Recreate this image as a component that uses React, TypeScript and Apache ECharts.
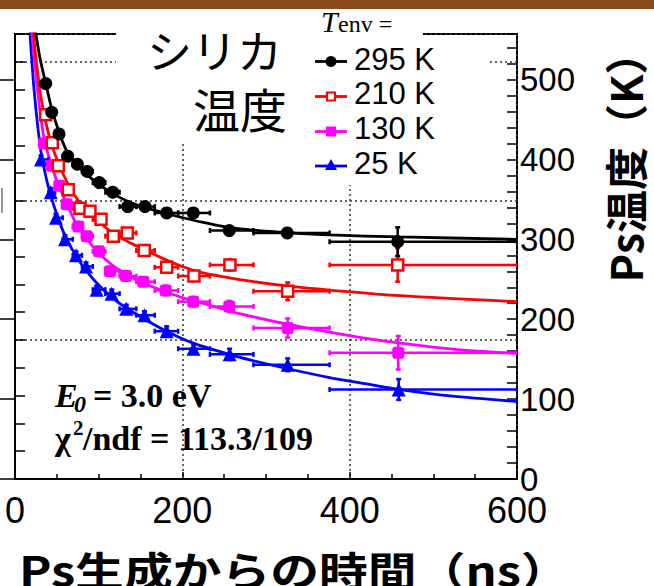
import React, { useEffect, useRef } from "react";
import * as echarts from "echarts";

// ---- data ----
const binEdges = [30, 40, 48, 57, 69, 80, 93, 108, 125, 145, 167, 195, 233, 285, 376, 600];

const time295 = [36.7, 43.9, 52.6, 63, 74.5, 86.4, 100.8, 116.8, 134.7, 155.4, 181.3, 213.1, 256.1, 325.4, 457.4];
const temp295 = [495, 459, 432, 404, 394, 385, 371, 359, 341, 341, 333, 333, 311, 308, 297];
const err295 = [4, 4, 4, 4, 4, 4, 4, 4, 4, 4, 5, 5, 5, 6, 18];

const time210 = [36.7, 44.6, 51.8, 63.7, 77.7, 89.6, 102.8, 117.5, 134.2, 154.5, 181.3, 213.9, 256.9, 325.9, 457.4];
const temp210 = [456, 421, 392, 362, 339, 335, 325, 304, 308, 286, 265, 254, 268, 235, 268];
const err210 = [5, 5, 5, 5, 5, 5, 5, 5, 5, 5, 6, 6, 7, 11, 21];

const time130 = [34.7, 43.9, 52.9, 61.8, 75.7, 85.7, 100.4, 113.5, 132.7, 153.3, 180.1, 213.1, 256.1, 325.9, 458.1];
const temp130 = [420, 392, 367, 344, 316, 304, 285, 260, 254, 247, 236, 222, 216, 189, 158];
const err130 = [5, 5, 5, 5, 5, 5, 5, 5, 5, 5, 6, 6, 7, 12, 21];

const time25 = [31.1, 42.7, 49, 59.8, 72.9, 84.9, 97.6, 115.6, 133, 154.8, 181.3, 213.3, 256.5, 325.9, 458.6];
const temp25 = [400, 359, 327, 300, 280, 266, 237, 232, 213, 205, 185, 163, 156, 143, 112];
const err25 = [5, 5, 5, 5, 5, 5, 5, 5, 5, 5, 6, 6, 7, 8, 13];

// fit curves [time ns, temperature K]
const fit295 = [[22, 578], [25, 557], [30, 526], [37, 494], [44, 463], [53, 433], [63, 408], [75, 392], [87, 380], [100, 369], [115, 358.5], [134, 348], [155, 340], [182, 332], [201, 327], [221, 322], [250, 316], [285, 311.5], [330, 308], [376, 305.5], [460, 303], [600, 300]];
const fit210 = [[19, 600], [22, 558], [26, 518], [32, 472], [42, 425], [54, 390], [70, 357], [85, 337], [100, 322], [117, 308], [135, 297], [153, 288], [181, 274], [200, 266], [221, 259], [250, 253], [285, 247], [330, 241], [376, 236.5], [460, 229.5], [600, 222]];
const fit130 = [[17, 600], [20.3, 558], [25, 505], [30, 460], [35, 425], [45, 388], [53, 366], [62, 344], [74, 318], [86, 300], [100, 283], [117, 267], [135, 255], [150, 247], [181, 234], [200, 227], [221, 221], [261, 209], [285, 203], [325, 194], [376, 184], [420, 176], [460, 170], [520, 163], [600, 157]];
const fit25 = [[15.5, 600], [17.9, 558], [20, 525], [23, 485], [27, 443], [31, 410], [37, 378], [43, 354], [50, 331], [60, 304], [73, 279], [85, 261], [98, 245], [115, 228], [133, 214], [155, 200], [181, 185], [213, 170], [256, 156], [285, 148], [326, 138], [376, 127], [420, 119], [460, 112], [520, 104], [600, 97]];

const legendLabels = ["295 K", "210 K", "130 K", "25 K"];
const xMax = 600;
const meVMax = 48; // left axis (meV)
const kMax = meVMax / 0.0861733; // right axis (K)

const BLACK = "#000000";
const RED = "#ff0000";
const PINK = "#ff00ff";
const BLUE = "#0000ff";

function errRows(times: number[], temps: number[], errs: number[]) {
  return times.map((t, i) => [t, temps[i], binEdges[i], binEdges[i + 1], errs[i]]);
}

function errRenderer(color: string) {
  return (params: any, api: any) => {
    const x = api.value(0), y = api.value(1), xl = api.value(2), xh = api.value(3), ye = api.value(4);
    const p = api.coord([x, y]);
    const pl = api.coord([xl, y]);
    const ph = api.coord([xh, y]);
    const pt = api.coord([x, y + ye]);
    const pb = api.coord([x, y - ye]);
    const style = { stroke: color, lineWidth: 2.5, fill: null };
    const c = 2.5;
    return {
      type: "group",
      children: [
        { type: "line", shape: { x1: pl[0], y1: p[1], x2: ph[0], y2: p[1] }, style },
        { type: "line", shape: { x1: pl[0], y1: p[1] - c, x2: pl[0], y2: p[1] + c }, style },
        { type: "line", shape: { x1: ph[0], y1: p[1] - c, x2: ph[0], y2: p[1] + c }, style },
        { type: "line", shape: { x1: p[0], y1: pt[1], x2: p[0], y2: pb[1] }, style },
        { type: "line", shape: { x1: p[0] - c, y1: pt[1], x2: p[0] + c, y2: pt[1] }, style },
        { type: "line", shape: { x1: p[0] - c, y1: pb[1], x2: p[0] + c, y2: pb[1] }, style },
      ],
    };
  };
}

function seriesFor(name: string, color: string, fit: number[][], times: number[], temps: number[], errs: number[], symbol: string, size: number, open: boolean) {
  return [
    {
      type: "line",
      name: name + " fit",
      data: fit,
      xAxisIndex: 0,
      yAxisIndex: 0,
      smooth: 0.3,
      showSymbol: false,
      symbol: "none",
      lineStyle: { color, width: 2.8 },
      clip: true,
      z: 2,
    },
    {
      type: "custom",
      name: name + " err",
      coordinateSystem: "cartesian2d",
      xAxisIndex: 0,
      yAxisIndex: 0,
      data: errRows(times, temps, errs),
      encode: { x: 0, y: 1 },
      renderItem: errRenderer(color),
      clip: true,
      z: 3,
    },
    {
      type: "scatter",
      name,
      xAxisIndex: 0,
      yAxisIndex: 0,
      data: times.map((t, i) => [t, temps[i]]),
      symbol,
      symbolSize: size,
      itemStyle: open ? { color: "#ffffff", borderColor: color, borderWidth: 2.5, opacity: 1 } : { color, opacity: 1 },
      z: 4,
    },
  ];
}

const SANS = '"Liberation Sans", Arial, sans-serif';
const SERIF = '"Liberation Serif", "Times New Roman", serif';
const CJK = '"Noto Sans CJK JP", "Noto Sans", sans-serif';

function legendItems() {
  const rows = [
    { y: 61.5, ty: 59, color: BLACK, kind: "circle" },
    { y: 96.5, ty: 93.5, color: RED, kind: "open" },
    { y: 131.5, ty: 128.3, color: PINK, kind: "square" },
    { y: 166, ty: 163.3, color: BLUE, kind: "triangle" },
  ];
  const out: any[] = [];
  rows.forEach((r, i) => {
    out.push({ type: "line", z: 60, shape: { x1: 315, y1: r.y, x2: 347, y2: r.y }, style: { stroke: r.color, lineWidth: 2.8 } });
    if (r.kind === "circle") out.push({ type: "circle", z: 61, shape: { cx: 331, cy: r.y, r: 5.5 }, style: { fill: r.color } });
    if (r.kind === "open") out.push({ type: "rect", z: 61, shape: { x: 327, y: r.y - 4, width: 8, height: 8 }, style: { fill: "#fff", stroke: r.color, lineWidth: 2.2 } });
    if (r.kind === "square") out.push({ type: "rect", z: 61, shape: { x: 326, y: r.y - 5, width: 10, height: 10 }, style: { fill: r.color } });
    if (r.kind === "triangle") out.push({ type: "polygon", z: 61, shape: { points: [[331, r.y - 7], [325, r.y + 4], [337, r.y + 4]] }, style: { fill: r.color } });
    out.push({ type: "text", z: 61, x: 354, y: r.ty, style: { text: legendLabels[i], fontFamily: SANS, fontSize: 31, fill: "#000", align: "left", verticalAlign: "middle" } });
  });
  return out;
}

const option: any = {
  animation: false,
  backgroundColor: "#ffffff",
  grid: { left: 15, right: 137, top: 34, bottom: 107, show: true, borderColor: "#000", borderWidth: 2, backgroundColor: "transparent", containLabel: false },
  xAxis: [
    {
      type: "value",
      min: 0,
      max: xMax,
      interval: 200,
      position: "bottom",
      axisLine: { show: true, lineStyle: { color: "#000", width: 2 } },
      axisTick: { show: true, inside: true, length: 7, lineStyle: { color: "#000", width: 1.5 } },
      minorTick: { show: true, splitNumber: 4, length: 5, lineStyle: { color: "#000", width: 1.5 } },
      axisLabel: { show: true, fontFamily: SANS, fontSize: 36, color: "#000", margin: 13 },
      splitLine: { show: true, lineStyle: { color: "#333", width: 1.5, type: [2, 3] } },
    },
  ],
  yAxis: [
    {
      type: "value",
      min: 0,
      max: kMax,
      interval: 100,
      position: "right",
      axisLine: { show: true, lineStyle: { color: "#000", width: 2 } },
      axisTick: { show: true, inside: true, length: 18, lineStyle: { color: "#000", width: 1.5 } },
      axisLabel: { show: true, fontFamily: SANS, fontSize: 33, color: "#000", margin: 3, showMaxLabel: false },
      splitLine: { show: false },
    },
    {
      type: "value",
      min: 0,
      max: kMax,
      interval: 20,
      position: "right",
      axisLine: { show: false },
      axisTick: { show: true, inside: true, length: 10, lineStyle: { color: "#000", width: 1.5 } },
      axisLabel: { show: false },
      splitLine: { show: false },
    },
    {
      type: "value",
      min: 0,
      max: meVMax,
      interval: 3,
      position: "left",
      axisLine: { show: true, lineStyle: { color: "#000", width: 2 } },
      axisTick: { show: true, inside: true, length: 10, lineStyle: { color: "#000", width: 1.5 } },
      axisLabel: { show: false },
      splitLine: { show: false },
    },
    {
      type: "value",
      min: 0,
      max: meVMax,
      interval: 15,
      position: "left",
      axisLine: { show: false },
      axisTick: { show: false },
      axisLabel: { show: false },
      splitLine: { show: true, lineStyle: { color: "#333", width: 1.5, type: [2, 3] } },
    },
  ],
  series: [
    ...seriesFor("25 K", BLUE, fit25, time25, temp25, err25, "triangle", 14, false),
    ...seriesFor("130 K", PINK, fit130, time130, temp130, err130, "roundRect", 12, false),
    ...seriesFor("210 K", RED, fit210, time210, temp210, err210, "rect", 11, true),
    ...seriesFor("295 K", BLACK, fit295, time295, temp295, err295, "circle", 13, false),
  ],
  graphic: [
    { type: "rect", z: 70, silent: true, shape: { x: 0, y: 0, width: 654, height: 9 }, style: { fill: "#8b4a1c" } },
    { type: "rect", z: 50, silent: true, shape: { x: 116, y: 10, width: 307, height: 133 }, style: { fill: "#fff" } },
    { type: "rect", z: 50, silent: true, shape: { x: 300, y: 40, width: 190, height: 145 }, style: { fill: "#fff" } },
    { type: "line", z: 50, silent: true, shape: { x1: 2, y1: 188, x2: 2, y2: 213 }, style: { stroke: "#555", lineWidth: 1.2 } },
    { type: "text", z: 60, x: 282, y: 49, style: { text: "シリカ", fontFamily: CJK, fontSize: 45, fill: "#000", align: "right", verticalAlign: "middle" } },
    { type: "text", z: 60, x: 287, y: 107.5, style: { text: "温度", fontFamily: CJK, fontSize: 47, fill: "#000", align: "right", verticalAlign: "middle" } },
    { type: "text", z: 60, x: 321, y: 21.5, style: { text: "T", fontFamily: SERIF, fontStyle: "italic", fontSize: 30, fill: "#000", align: "left", verticalAlign: "middle" } },
    { type: "text", z: 60, x: 338, y: 23.5, style: { text: "env =", fontFamily: SERIF, fontSize: 24, fill: "#000", align: "left", verticalAlign: "middle" } },
    ...legendItems(),
    { type: "text", z: 60, x: 55, y: 395.5, style: { text: "E", fontFamily: SERIF, fontStyle: "italic", fontWeight: "bold", fontSize: 34, fill: "#000", align: "left", verticalAlign: "middle" } },
    { type: "text", z: 60, x: 74, y: 404, style: { text: "0", fontFamily: SERIF, fontStyle: "italic", fontWeight: "bold", fontSize: 24, fill: "#000", align: "left", verticalAlign: "middle" } },
    { type: "text", z: 60, x: 93, y: 395.5, style: { text: "= 3.0 eV", fontFamily: SERIF, fontWeight: "bold", fontSize: 34, fill: "#000", align: "left", verticalAlign: "middle" } },
    { type: "text", z: 60, x: 55, y: 438.5, style: { text: "χ", fontFamily: SERIF, fontWeight: "bold", fontSize: 34, fill: "#000", align: "left", verticalAlign: "middle" } },
    { type: "text", z: 60, x: 73, y: 428, style: { text: "2", fontFamily: SERIF, fontWeight: "bold", fontSize: 21, fill: "#000", align: "left", verticalAlign: "middle" } },
    { type: "text", z: 60, x: 83, y: 438.5, style: { text: "/ndf = 113.3/109", fontFamily: SERIF, fontWeight: "bold", fontSize: 34, fill: "#000", align: "left", verticalAlign: "middle" } },
    { type: "text", z: 60, x: 19, y: 569, scaleX: 1.22, style: { text: "Ps生成からの時間（ns）", fontFamily: CJK, fontWeight: "bold", fontSize: 40, fill: "#000", align: "left", verticalAlign: "middle" } },
    { type: "text", z: 60, x: 624, y: 157, rotation: Math.PI / 2, style: { text: "Ps温度（K）", fontFamily: CJK, fontWeight: "bold", fontSize: 43, fill: "#000", align: "center", verticalAlign: "middle" } },
  ],
};

export default function App() {
  const ref = useRef<HTMLDivElement>(null);
  useEffect(() => {
    const chart = echarts.init(ref.current as HTMLDivElement, null, { renderer: "svg" });
    chart.setOption(option);
    return () => chart.dispose();
  }, []);
  return <div ref={ref} style={{ position: "fixed", left: 0, top: 0, width: 654, height: 586, background: "#fff" }} />;
}
